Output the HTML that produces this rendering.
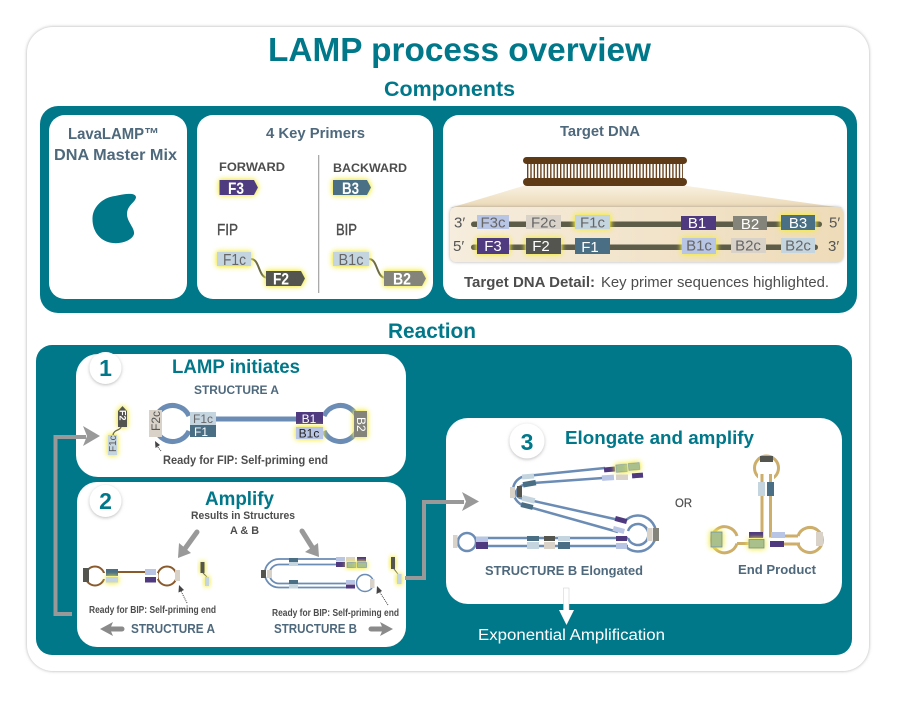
<!DOCTYPE html>
<html><head><meta charset="utf-8"><style>
html,body{margin:0;padding:0;background:#fff}
svg{display:block}
text{font-family:"Liberation Sans",sans-serif}
.t{fill:#00788a;font-weight:bold}
.h{fill:#4e687c;font-weight:bold}
.d{fill:#4d4d4d;font-weight:bold}
.m{fill:#666;text-anchor:middle}
.w{fill:#fff;text-anchor:middle}
</style></head><body>
<svg width="901" height="710" viewBox="0 0 901 710" xmlns="http://www.w3.org/2000/svg">
<defs>
<filter id="g" x="-80%" y="-80%" width="260%" height="260%"><feDropShadow dx="0" dy="0" stdDeviation="2.6" flood-color="#f2ea20"/><feDropShadow dx="0" dy="0" stdDeviation="1.4" flood-color="#f6f060" flood-opacity=".7"/></filter>
<filter id="s" x="-10%" y="-10%" width="120%" height="120%"><feDropShadow dx="0" dy="0" stdDeviation="1.5" flood-color="#888" flood-opacity=".7"/></filter>
<filter id="c" x="-30%" y="-30%" width="160%" height="160%"><feDropShadow dx="0" dy="1" stdDeviation="1.5" flood-color="#777" flood-opacity=".5"/></filter>
<linearGradient id="tan" x1="0" x2="1" y1="0" y2="0"><stop offset="0" stop-color="#f6edde"/><stop offset="1" stop-color="#eedbb8"/></linearGradient>
<linearGradient id="tr" x1="0" x2="0" y1="0" y2="1"><stop offset="0" stop-color="#f8f0e0"/><stop offset="1" stop-color="#ead8b4"/></linearGradient>
</defs>

<rect x="27" y="27" width="842" height="644" rx="26" fill="#fff" filter="url(#s)"/>

<text x="459.500" y="61" class="t" font-size="33" text-anchor="middle" textLength="383" lengthAdjust="spacingAndGlyphs">LAMP process overview</text>
<text x="449.500" y="96" class="t" font-size="21" text-anchor="middle" textLength="131" lengthAdjust="spacingAndGlyphs">Components</text>
<text x="432" y="338" class="t" font-size="21" text-anchor="middle" textLength="88" lengthAdjust="spacingAndGlyphs">Reaction</text>

<!-- Components -->
<rect x="40" y="106" width="817" height="207" rx="18" fill="#00788a"/>
<rect x="49" y="115" width="138" height="184" rx="16" fill="#fff"/>
<rect x="197" y="115" width="236" height="184" rx="16" fill="#fff"/>
<rect x="443" y="115" width="404" height="184" rx="16" fill="#fff"/>

<text x="68" y="139" class="h" font-size="16" textLength="91" lengthAdjust="spacingAndGlyphs">LavaLAMP™</text>
<text x="54" y="160" class="h" font-size="16" textLength="123" lengthAdjust="spacingAndGlyphs">DNA Master Mix</text>
<path d="M92.500 218C93 205 105 197 115 196C125 194 135 192 136 197C136 202 127 205 127 214C127 222 135 228 134 234C132 241 120 244 113 243C101 242 92 232 92.500 218Z" fill="#00788a"/>

<text x="266" y="138" class="h" font-size="15" textLength="99" lengthAdjust="spacingAndGlyphs">4 Key Primers</text>
<text x="219" y="171" class="d" font-size="12" textLength="66" lengthAdjust="spacingAndGlyphs">FORWARD</text>
<text x="333" y="172" class="d" font-size="12" textLength="74" lengthAdjust="spacingAndGlyphs">BACKWARD</text>
<polygon points="219.500,180 254,180 258,187.500 254,195 219.500,195" fill="#4f3a7f" filter="url(#g)"/>
<text x="236" y="194" class="w" font-size="17" font-weight="bold" textLength="16" lengthAdjust="spacingAndGlyphs">F3</text>
<polygon points="333,180 367,180 371,187.500 367,195 333,195" fill="#4a6f85" filter="url(#g)"/>
<text x="350.500" y="194" class="w" font-size="17" font-weight="bold" textLength="17" lengthAdjust="spacingAndGlyphs">B3</text>
<text x="217" y="235" class="d" font-size="16" textLength="21" lengthAdjust="spacingAndGlyphs" style="font-weight:normal;stroke:#4d4d4d;stroke-width:.4">FIP</text>
<text x="336" y="235" class="d" font-size="16" textLength="21" lengthAdjust="spacingAndGlyphs" style="font-weight:normal;stroke:#4d4d4d;stroke-width:.4">BIP</text>
<rect x="318" y="155" width="1.300" height="138" fill="#aaa"/>
<path d="M251 259C260 259 258 278 268 278" fill="none" stroke="#6b6a45" stroke-width="2"/>
<rect x="217" y="252" width="34" height="14" fill="#c5d5e0" filter="url(#g)"/>
<text x="234.500" y="265" class="m" font-size="16" textLength="23" lengthAdjust="spacingAndGlyphs">F1c</text>
<polygon points="266,271 301,271 305,278.500 301,286 266,286" fill="#55554f" filter="url(#g)"/>
<text x="281" y="284.500" class="w" font-size="17" font-weight="bold" textLength="16" lengthAdjust="spacingAndGlyphs">F2</text>
<path d="M369 259C378 259 376 278 386 278" fill="none" stroke="#6b6a45" stroke-width="2"/>
<rect x="333" y="252" width="36" height="14" fill="#c5d5e0" filter="url(#g)"/>
<text x="351" y="265" class="m" font-size="16" textLength="25" lengthAdjust="spacingAndGlyphs">B1c</text>
<polygon points="384,271 422,271 426,278.500 422,286 384,286" fill="#85847a" filter="url(#g)"/>
<text x="402" y="284.500" class="w" font-size="17" font-weight="bold" textLength="18" lengthAdjust="spacingAndGlyphs">B2</text>

<text x="560" y="136" class="h" font-size="15" textLength="80" lengthAdjust="spacingAndGlyphs">Target DNA</text>
<polygon points="523,186 687,186 843,208 450,208" fill="url(#tr)"/>
<line x1="527" x2="683" y1="171" y2="171" stroke="#6a4420" stroke-width="15" stroke-dasharray="1.400 1.900"/>
<rect x="523" y="157" width="164" height="7" rx="3.500" fill="#5f3a17"/>
<rect x="523" y="178" width="164" height="8" rx="4" fill="#5f3a17"/>
<rect x="450" y="207" width="393" height="55" rx="6" fill="url(#tan)" filter="url(#s)"/>
<rect x="471" y="221.500" width="351" height="5.500" rx="2.700" fill="#5c5c48"/>
<rect x="471" y="244.500" width="347" height="5.500" rx="2.700" fill="#5c5c48"/>
<g font-size="15">
<rect x="477" y="215" width="32" height="14" fill="#b9c5e4"/><text x="493" y="227.500" class="m">F3c</text>
<rect x="526" y="215" width="35" height="14" fill="#d8d2c8"/><text x="543.500" y="227.500" class="m">F2c</text>
<rect x="575" y="215" width="35" height="14" fill="#c5d5e0" filter="url(#g)"/><text x="592.500" y="227.500" class="m">F1c</text>
<rect x="681" y="216" width="35" height="14" fill="#4f3a7f"/><text x="697" y="228" class="w">B1</text>
<rect x="733" y="216" width="34" height="14" fill="#85847a"/><text x="750" y="229" class="w">B2</text>
<rect x="781" y="215" width="34" height="15" fill="#4a6f85" filter="url(#g)"/><text x="798" y="228" class="w">B3</text>
<rect x="477" y="238" width="32" height="16" fill="#4f3a7f" filter="url(#g)"/><text x="493" y="251" class="w">F3</text>
<rect x="526" y="238" width="35" height="16" fill="#55554f" filter="url(#g)"/><text x="541" y="251" class="w">F2</text>
<rect x="575" y="238" width="35" height="16" fill="#4a6f85"/><text x="590" y="252" class="w">F1</text>
<rect x="682" y="238" width="34" height="16" fill="#b9c5e4" filter="url(#g)"/><text x="699" y="250.500" class="m">B1c</text>
<rect x="731" y="238" width="35" height="15" fill="#d8d2c8"/><text x="748" y="250.500" class="m">B2c</text>
<rect x="781" y="238" width="34" height="15" fill="#c5d5e0"/><text x="798" y="250.500" class="m">B2c</text>
<text x="454" y="227.500" fill="#555">3′</text><text x="829" y="227.500" fill="#555">5′</text>
<text x="453" y="251" fill="#555">5′</text><text x="828" y="251" fill="#555">3′</text>
</g>
<text x="464" y="287" class="d" font-size="14.500" textLength="131" lengthAdjust="spacingAndGlyphs">Target DNA Detail:</text>
<text x="601" y="287" fill="#4d4d4d" font-size="14.500" textLength="228" lengthAdjust="spacingAndGlyphs">Key primer sequences highlighted.</text>

<!-- Reaction -->
<rect x="36" y="345" width="816" height="310" rx="16" fill="#00788a"/>
<rect x="76" y="354" width="330" height="123" rx="22" fill="#fff"/>
<rect x="77" y="482" width="329" height="165" rx="20" fill="#fff"/>
<rect x="446" y="418" width="396" height="186" rx="22" fill="#fff"/>

<!-- connector left -->
<polyline points="72,614 55.500,614 55.500,437 86,437" fill="none" stroke="#999" stroke-width="4"/>
<polygon points="83,426 100,436 83,446 87,436" fill="#999"/>

<!-- Panel 1 -->
<circle cx="105.500" cy="368" r="16" fill="#fff" filter="url(#c)"/>
<text x="105.500" y="376" class="t" font-size="23" text-anchor="middle">1</text>
<text x="172" y="373" class="t" font-size="19" textLength="128" lengthAdjust="spacingAndGlyphs">LAMP initiates</text>
<text x="194" y="394" class="h" font-size="12" textLength="85" lengthAdjust="spacingAndGlyphs">STRUCTURE A</text>
<rect x="108" y="435" width="9" height="20" fill="#c5d5e0" filter="url(#g)"/>
<text transform="translate(116 452) rotate(-90)" font-size="10" fill="#555">F1c</text>
<polygon points="118,411 122.500,406 127,411 127,427 118,427" fill="#55554f" filter="url(#g)"/>
<text transform="translate(119.500 410) rotate(90)" font-size="9" font-weight="bold" fill="#fff">F2</text>
<path d="M113 435C114 429 120 431 121 427" fill="none" stroke="#6b6a45" stroke-width="1.300"/>
<g fill="none" stroke="#6b8cb5" stroke-width="5">
<path d="M189 416A18 18 0 1 0 189 431"/>
<path d="M216 419H296"/>
<path d="M324 416A18 18 0 1 1 324 431"/>
</g>
<rect x="149" y="410" width="13" height="27" fill="#d8d2c8"/>
<text transform="translate(160 431) rotate(-90)" font-size="12" fill="#555">F2c</text>
<rect x="190" y="412" width="26" height="13" fill="#c5d5e0"/><text x="203" y="423" class="m" font-size="12">F1c</text>
<rect x="190" y="425" width="26" height="12" fill="#4a6f85"/><text x="201" y="436" class="w" font-size="12">F1</text>
<rect x="296" y="412" width="27" height="12" fill="#4f3a7f"/><text x="309" y="423" class="w" font-size="12">B1</text>
<rect x="296" y="427" width="27" height="12" fill="#b9c5e4" filter="url(#g)"/><text x="309" y="437.500" text-anchor="middle" font-size="12" fill="#222">B1c</text>
<rect x="354" y="411" width="13" height="26" fill="#85847a" filter="url(#g)"/>
<text transform="translate(357 417) rotate(90)" font-size="12" fill="#fff">B2</text>
<line x1="161" y1="451" x2="157" y2="446" stroke="#444" stroke-dasharray="1 1"/>
<polygon points="155,441 160,445 155.500,448" fill="#444"/>
<text x="163" y="464" class="d" font-size="11.500" textLength="165" lengthAdjust="spacingAndGlyphs">Ready for FIP: Self-priming end</text>

<!-- Panel 2 -->
<circle cx="105.500" cy="501" r="16" fill="#fff" filter="url(#c)"/>
<text x="105.500" y="509" class="t" font-size="23" text-anchor="middle">2</text>
<text x="205" y="505" class="t" font-size="19" textLength="69" lengthAdjust="spacingAndGlyphs">Amplify</text>
<text x="191" y="519" class="d" font-size="11" textLength="104" lengthAdjust="spacingAndGlyphs">Results in Structures</text>
<text x="230" y="534" class="d" font-size="11" textLength="29" lengthAdjust="spacingAndGlyphs">A &amp; B</text>
<line x1="197" y1="532" x2="184" y2="550" stroke="#999" stroke-width="5" stroke-linecap="round"/>
<polygon points="178,558 179,543 191,553" fill="#999"/>
<line x1="302" y1="531" x2="312" y2="547" stroke="#999" stroke-width="5" stroke-linecap="round"/>
<polygon points="319,557 305,552 318,543" fill="#999"/>

<!-- struct A small -->
<g fill="none" stroke="#8a5a2b" stroke-width="2">
<circle cx="95" cy="576" r="9.500"/><circle cx="167" cy="576" r="9.500"/>
<path d="M106 572H146"/>
</g>
<rect x="83" y="568" width="6" height="14" fill="#55554f"/>
<rect x="102" y="573" width="4" height="6" fill="#fff"/><rect x="156" y="573" width="2" height="6" fill="#fff"/>
<rect x="106" y="569" width="12" height="7" fill="#4a6f85"/>
<rect x="106" y="577" width="12" height="5.500" fill="#c5d5e0" filter="url(#g)"/>
<rect x="145" y="569" width="11" height="6" fill="#b9c5e4"/>
<rect x="145" y="577" width="11" height="5.500" fill="#4f3a7f"/>
<rect x="175" y="570" width="5" height="11" fill="#d8d2c8"/>
<rect x="200.500" y="562" width="4" height="11" fill="#55554f" filter="url(#g)"/>
<path d="M203 573L207 577" stroke="#6b6a45"/>
<rect x="205" y="577" width="4" height="9" fill="#c5d5e0" filter="url(#g)"/>
<line x1="187" y1="603" x2="181" y2="591" stroke="#444" stroke-dasharray="1 1"/>
<polygon points="179,585 184,590 178.500,592.500" fill="#444"/>
<text x="89" y="613" class="d" font-size="9.800" textLength="127" lengthAdjust="spacingAndGlyphs">Ready for BIP: Self-priming end</text>
<text x="272" y="616" class="d" font-size="9.800" textLength="127" lengthAdjust="spacingAndGlyphs">Ready for BIP: Self-priming end</text>
<text x="131" y="633" class="h" font-size="13" textLength="84" lengthAdjust="spacingAndGlyphs">STRUCTURE A</text>
<text x="274" y="633" class="h" font-size="13" textLength="83" lengthAdjust="spacingAndGlyphs">STRUCTURE B</text>
<line x1="122" y1="629" x2="110" y2="629" stroke="#8a8a8a" stroke-width="5" stroke-linecap="round"/>
<polygon points="100,629 113,622 110,629 113,636" fill="#8a8a8a"/>
<line x1="371" y1="629" x2="384" y2="629" stroke="#8a8a8a" stroke-width="5" stroke-linecap="round"/>
<polygon points="393,629 380,622 383,629 380,636" fill="#8a8a8a"/>

<!-- struct B small -->
<g fill="none" stroke="#6b8cb5" stroke-width="1.800">
<path d="M337 559H279A14 14 0 0 0 279 587.500H346"/>
<path d="M337 564.500H279A9.500 9.500 0 0 0 279 583.500H346"/>
<circle cx="365" cy="583" r="8.500" stroke-width="1.500"/>
</g>
<rect x="261" y="570" width="5" height="8" fill="#55554f"/>
<rect x="267" y="570" width="5" height="8" fill="#d8d2c8"/>
<rect x="289" y="558" width="9" height="4" fill="#4a6f85"/><rect x="289" y="562" width="9" height="4" fill="#c5d5e0"/>
<rect x="289" y="580" width="9" height="4" fill="#4a6f85"/><rect x="289" y="584" width="9" height="4.500" fill="#c5d5e0"/>
<rect x="336" y="557" width="9" height="4.500" fill="#b9c5e4"/><rect x="336" y="562" width="9" height="5" fill="#4f3a7f"/>
<rect x="346" y="557" width="9" height="4.500" fill="#d8d2c8"/>
<rect x="357" y="557" width="9" height="4.500" fill="#4f3a7f"/>
<rect x="347" y="562.500" width="9" height="5" fill="#a9c08c" stroke="#6b8cb5" stroke-width=".6" filter="url(#g)"/>
<rect x="357.500" y="562.500" width="9" height="5" fill="#a9c08c" stroke="#6b8cb5" stroke-width=".6" filter="url(#g)"/>
<rect x="346" y="580" width="9" height="4" fill="#b9c5e4"/><rect x="346" y="584.500" width="9" height="4" fill="#4f3a7f"/>
<rect x="370" y="579" width="4.500" height="9" fill="#d8d2c8"/>
<line x1="388" y1="605" x2="379" y2="591" stroke="#444" stroke-dasharray="1 1"/>
<polygon points="377,586 382,591 376.500,594" fill="#444"/>
<rect x="391" y="557" width="4" height="12" fill="#55554f" filter="url(#g)"/>
<path d="M394 569L398 574" stroke="#6b6a45"/>
<rect x="397" y="574" width="4.500" height="10" fill="#c5d5e0" filter="url(#g)"/>

<!-- connector right -->
<polyline points="405,578 424,578 424,502 464,502" fill="none" stroke="#999" stroke-width="4"/>
<polygon points="462,492 479,501.500 462,511 466,501.500" fill="#999"/>

<!-- Panel 3 -->
<circle cx="527" cy="441" r="17.500" fill="#fff" filter="url(#c)"/>
<text x="527" y="450" class="t" font-size="23" text-anchor="middle">3</text>
<text x="565" y="444" class="t" font-size="18.500" textLength="189" lengthAdjust="spacingAndGlyphs">Elongate and amplify</text>

<g fill="none" stroke="#6b8cb5" stroke-width="2.500">
<path d="M605 468L526 476C511 478 508 497 522 505L618 532"/>
<path d="M603 478L533 483C518 484 511 493 520 498L619 520"/>
<path d="M625 521A18 18 0 1 1 625 546"/>
<path d="M628 531A10.500 10.500 0 1 1 628 538"/>
<path d="M476 538H628"/><path d="M476 546H628"/>
<circle cx="467" cy="542" r="9"/>
</g>
<rect x="453" y="535" width="4.500" height="13" fill="#d8d2c8"/>
<rect x="476" y="537" width="12" height="5" fill="#b9c5e4"/><rect x="476" y="542" width="12" height="7" fill="#4f3a7f"/>
<rect x="527" y="536" width="12" height="5" fill="#4a6f85"/><rect x="527" y="542" width="12" height="7" fill="#c5d5e0"/>
<rect x="544" y="536" width="11" height="5" fill="#55554f"/><rect x="544" y="542" width="11" height="7" fill="#d8d2c8"/>
<rect x="558" y="536" width="12" height="5" fill="#c5d5e0"/><rect x="558" y="542" width="12" height="7" fill="#4a6f85"/>
<rect x="616" y="536" width="11" height="5" fill="#4f3a7f"/><rect x="616" y="543" width="11" height="6" fill="#b9c5e4"/>
<rect x="647" y="528" width="5.500" height="13" fill="#d8d2c8"/><rect x="653" y="528" width="6" height="13" fill="#85847a"/>
<rect x="510" y="487" width="5" height="11" fill="#d8d2c8"/><rect x="517" y="486" width="5" height="11" fill="#55554f"/>
<rect x="522" y="474" width="12" height="5" fill="#c5d5e0" transform="rotate(-5 528 476)"/>
<rect x="523" y="481" width="13" height="5.500" fill="#4a6f85" transform="rotate(-10 529 484)"/>
<rect x="522" y="496.500" width="13" height="5.500" fill="#c5d5e0" transform="rotate(14 528 499)"/>
<rect x="521" y="503.500" width="12" height="5" fill="#4a6f85" transform="rotate(14 527 506)"/>
<rect x="615" y="517.500" width="12" height="5" fill="#4f3a7f" transform="rotate(15 621 520)"/>
<rect x="613" y="527.500" width="11.500" height="5" fill="#b9c5e4" transform="rotate(15 619 530)"/>
<rect x="604" y="467" width="11" height="5" fill="#4f3a7f" transform="rotate(-5 609 469)"/>
<rect x="616" y="464.500" width="11" height="7.500" fill="#a9c08c" stroke="#6b8cb5" stroke-width=".5" filter="url(#g)" transform="rotate(-5 621 468)"/>
<rect x="628.500" y="463" width="11" height="7" fill="#a9c08c" stroke="#6b8cb5" stroke-width=".5" filter="url(#g)" transform="rotate(-5 634 466)"/>
<rect x="602" y="475" width="12" height="5.500" fill="#b9c5e4" transform="rotate(-4 608 478)"/>
<rect x="616" y="474.500" width="12" height="5.500" fill="#d8d2c8"/>
<rect x="632" y="473" width="11" height="5" fill="#4f3a7f" transform="rotate(-4 637 475)"/>
<text x="485" y="575" class="h" font-size="13" textLength="158" lengthAdjust="spacingAndGlyphs">STRUCTURE B Elongated</text>

<rect x="563.500" y="588" width="5.500" height="24" fill="#fff" stroke="#ccc" stroke-width=".5"/>
<polygon points="559,610 574,610 566.500,625" fill="#fff"/>
<text x="478" y="640" fill="#fff" font-size="15.500" textLength="187" lengthAdjust="spacingAndGlyphs">Exponential Amplification</text>

<text x="675" y="507" class="d" font-size="12" textLength="17" lengthAdjust="spacingAndGlyphs" style="font-weight:normal;stroke:#4d4d4d;stroke-width:.2">OR</text>

<!-- End product -->
<g fill="none" stroke="#cdae6a" stroke-width="3">
<circle cx="766.500" cy="468" r="12"/>
<path d="M762 496V536H749"/>
<path d="M770.500 496V536H798"/>
<path d="M749 543.500H737"/>
<path d="M784 544H800"/>
<path d="M737 536A13 13 0 1 0 737 543.500"/>
<path d="M798 536A12.500 12.500 0 1 1 798 544"/>
</g>
<rect x="758" y="474" width="16" height="8" fill="#fff"/>
<rect x="760" y="456" width="13" height="6" fill="#55554f"/>
<rect x="758" y="482" width="7" height="14" fill="#c5d5e0"/>
<rect x="767" y="482" width="7" height="14" fill="#4a6f85"/>
<path d="M762 474V482M770.500 474V482" stroke="#cdae6a" stroke-width="3"/>
<rect x="711" y="532" width="11" height="15" fill="#a9c08c" stroke="#6b8cb5" stroke-width=".8" filter="url(#g)"/>
<rect x="749" y="532" width="14" height="6" fill="#4f3a7f"/>
<rect x="749" y="539.500" width="15" height="8.500" fill="#a9c08c" stroke="#6b8cb5" stroke-width=".8" filter="url(#g)"/>
<rect x="771" y="532" width="14" height="6" fill="#b9c5e4"/>
<rect x="770" y="541" width="14" height="6" fill="#4f3a7f"/>
<rect x="816" y="532" width="7" height="14" fill="#d8d2c8"/>
<text x="738" y="574" class="h" font-size="13" textLength="78" lengthAdjust="spacingAndGlyphs">End Product</text>
</svg>
</body></html>
